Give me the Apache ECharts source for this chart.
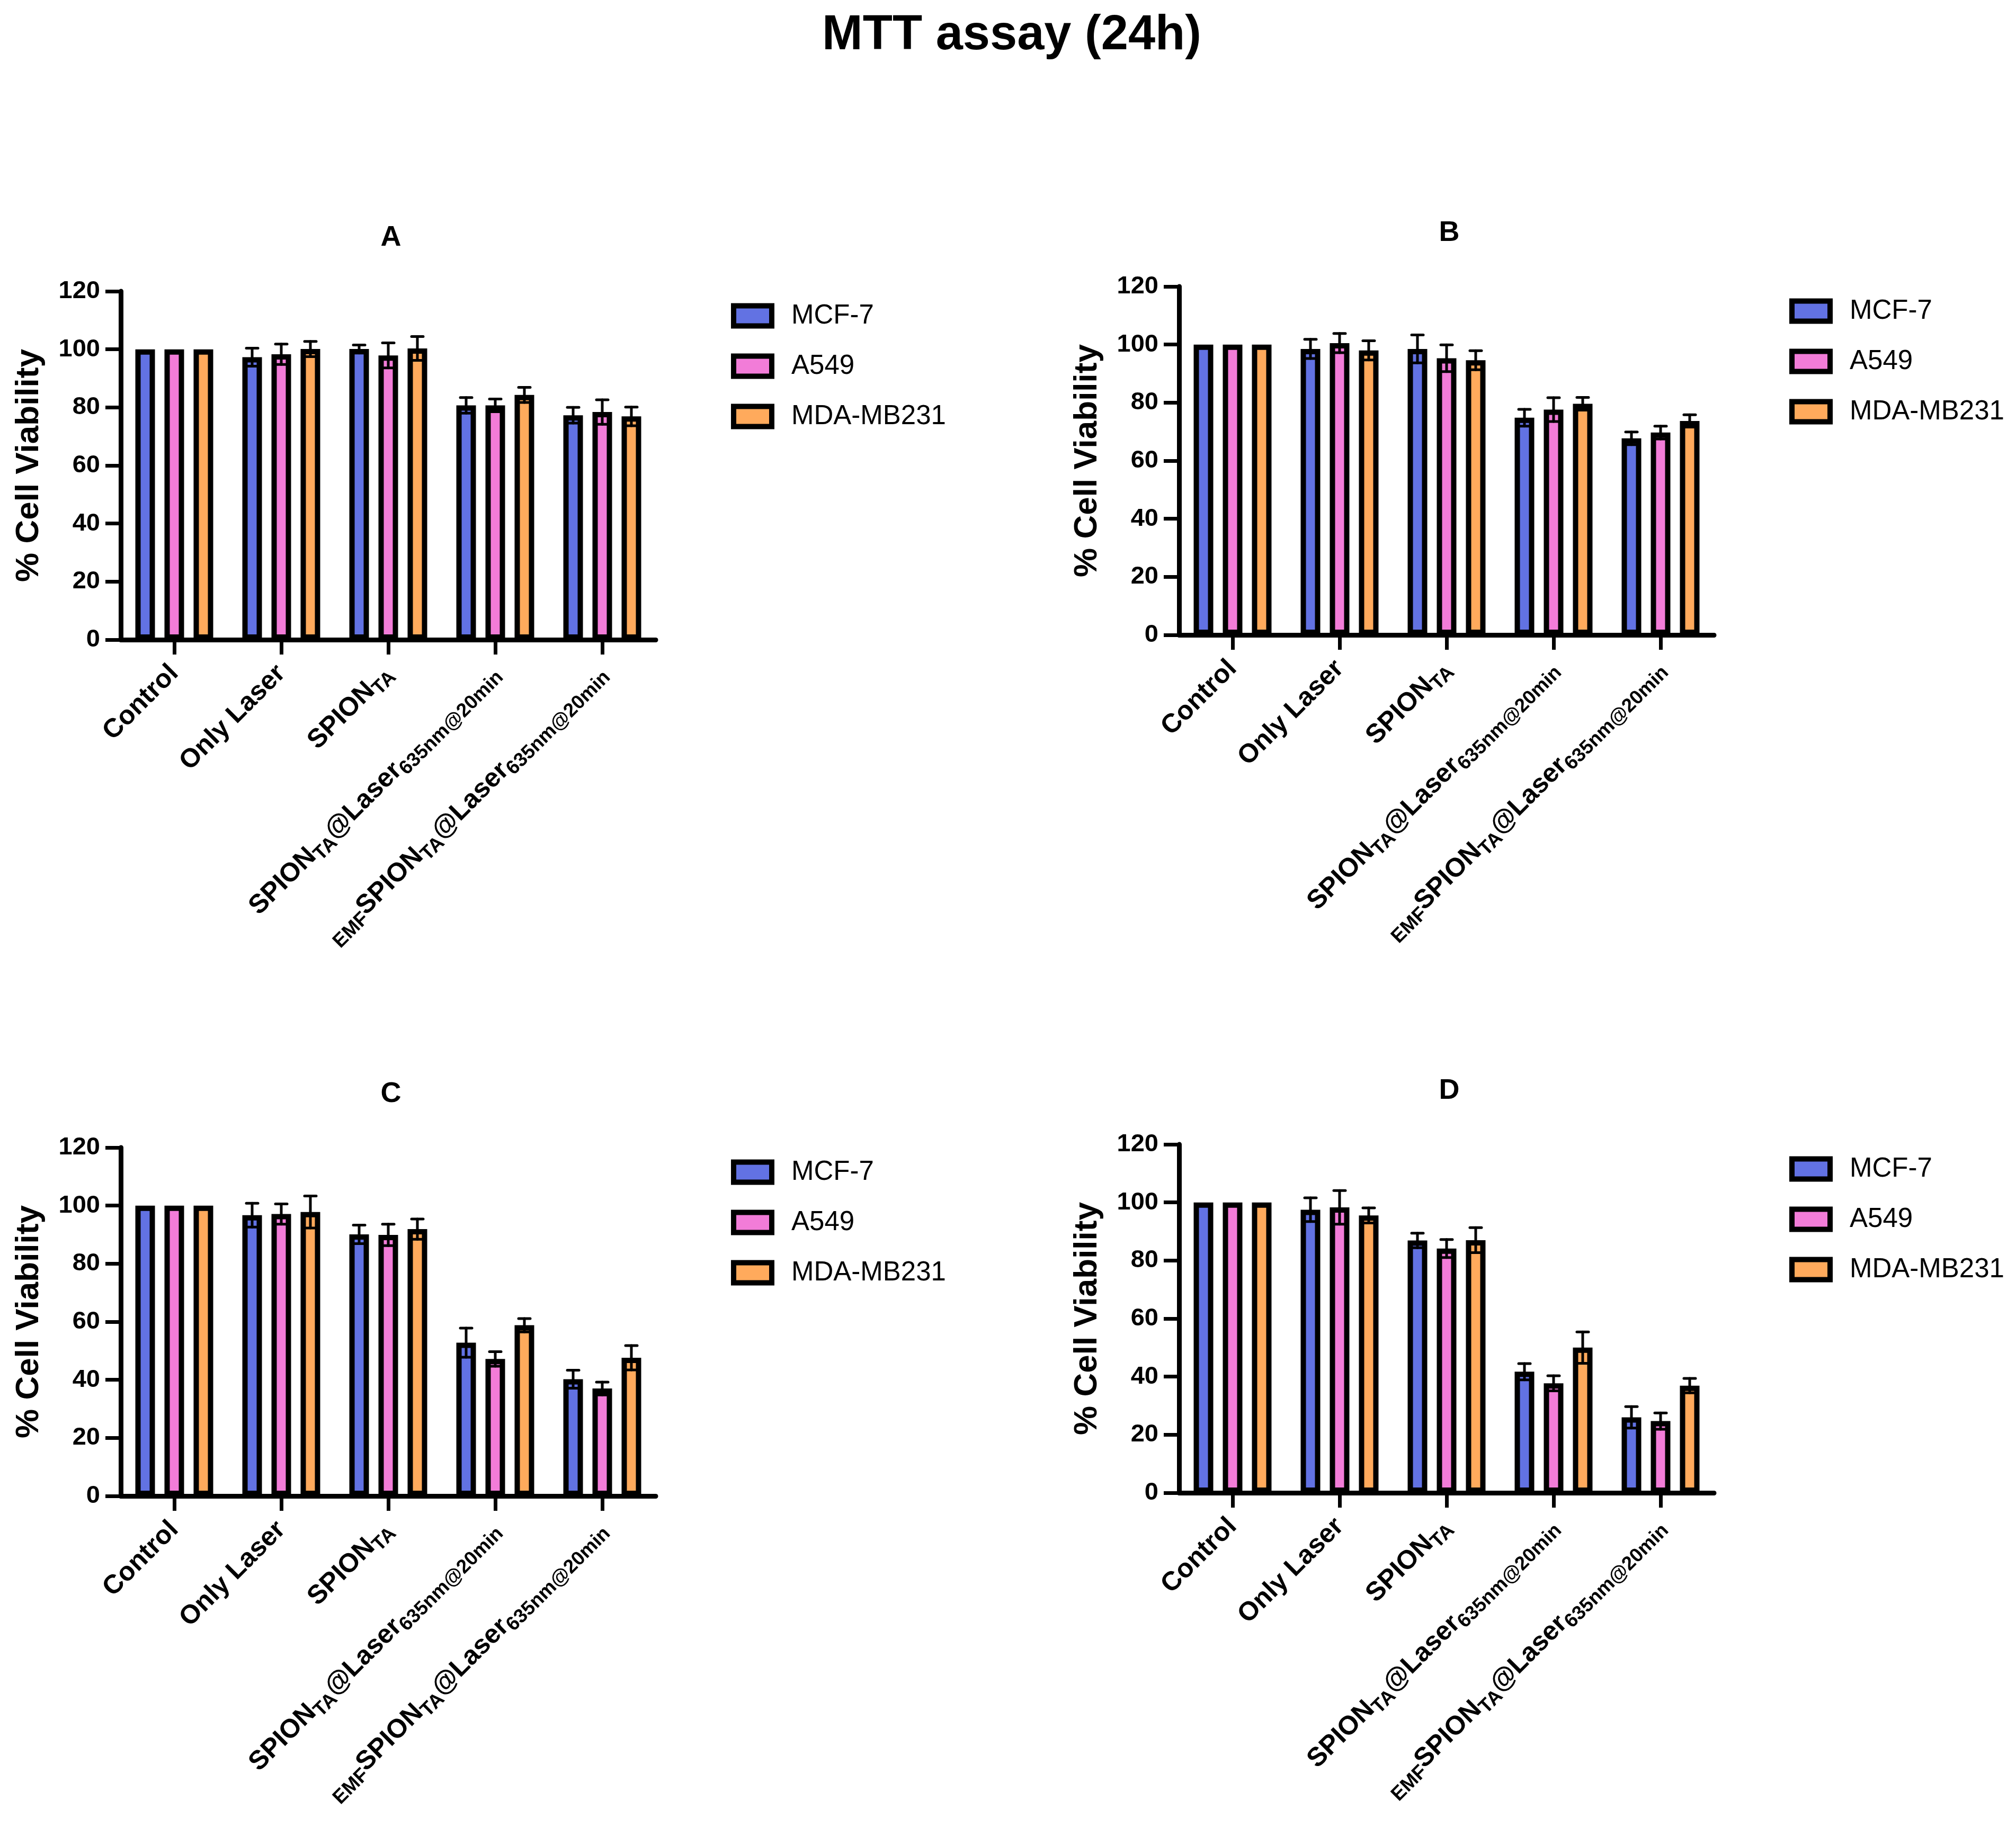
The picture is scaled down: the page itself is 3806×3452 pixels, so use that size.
<!DOCTYPE html>
<html>
<head>
<meta charset="utf-8">
<script src="https://cdn.jsdelivr.net/npm/echarts@6/dist/echarts.min.js"></script>
<style>
html,body{margin:0;padding:0;background:#fff;}
#chart{width:3806px;height:3452px;}
</style>
</head>
<body>
<div id="chart"></div>
<script>
// ---------------- DATA ----------------
const categories = ['Control', 'Only Laser', 'SPION_{TA}', 'SPION_{TA}@Laser_{635nm@20min}', '_{EMF}SPION_{TA}@Laser_{635nm@20min}'];
const seriesNames = ['MCF-7', 'A549', 'MDA-MB231'];
const panelLabels = ['A', 'B', 'C', 'D'];
const mainTitle = 'MTT assay (24h)';
const yAxisName = '% Cell Viability';
const yMin = 0, yMax = 120, yInterval = 20;

// Panel A
const A_mcf7 = [100, 97.3, 100.1, 80.7, 77.3];
const A_mcf7_sd = [0, 3.1, 1.4, 2.7, 2.7];
const A_a549 = [100, 98.3, 97.9, 80.7, 78.4];
const A_a549_sd = [0, 3.5, 4.3, 2.2, 4.2];
const A_mda = [100, 100.1, 100.3, 84.3, 76.9];
const A_mda_sd = [0, 2.6, 4.1, 2.6, 3.2];
// Panel B
const B_mcf7 = [100, 98.5, 98.5, 74.8, 67.7];
const B_mcf7_sd = [0, 3.3, 4.8, 2.9, 2.2];
const B_a549 = [100, 100.5, 95.3, 77.6, 69.7];
const B_a549_sd = [0, 3.3, 4.6, 4.1, 2.2];
const B_mda = [100, 98.0, 94.6, 79.6, 73.7];
const B_mda_sd = [0, 3.3, 3.3, 2.2, 2.1];
// Panel C
const C_mcf7 = [100, 96.7, 90.1, 52.8, 40.2];
const C_mcf7_sd = [0, 4.1, 3.2, 5.0, 3.1];
const C_a549 = [100, 97.1, 89.9, 47.2, 37.0];
const C_a549_sd = [0, 3.5, 3.7, 2.5, 2.2];
const C_mda = [100, 97.8, 91.9, 58.8, 47.6];
const C_mda_sd = [0, 5.5, 3.5, 2.3, 4.2];
// Panel D
const D_mcf7 = [100, 97.5, 86.9, 41.7, 26.0];
const D_mcf7_sd = [0, 4.1, 2.5, 2.8, 3.7];
const D_a549 = [100, 98.3, 84.1, 37.7, 24.7];
const D_a549_sd = [0, 5.8, 3.1, 2.6, 2.8];
const D_mda = [100, 95.5, 87.0, 50.0, 36.9];
const D_mda_sd = [0, 2.6, 4.3, 5.4, 2.5];

// ---------------- STYLE / LAYOUT ----------------
const F = "'Liberation Sans', Arial, Helvetica, sans-serif";
const colors = ['#6272E3', '#F27CD8', '#FFAA5C'];
const panelValues = [
  [[A_mcf7, A_mcf7_sd], [A_a549, A_a549_sd], [A_mda, A_mda_sd]],
  [[B_mcf7, B_mcf7_sd], [B_a549, B_a549_sd], [B_mda, B_mda_sd]],
  [[C_mcf7, C_mcf7_sd], [C_a549, C_a549_sd], [C_mda, C_mda_sd]],
  [[D_mcf7, D_mcf7_sd], [D_a549, D_a549_sd], [D_mda, D_mda_sd]]
];
const panels = [
  {left: 228, top: 550},
  {left: 2226, top: 541},
  {left: 228, top: 2167},
  {left: 2226, top: 2161}
];
const GW = 1010, GH = 658;
const BAR_W = 37, BAR_GAP = 0.486;
const BAR_STEP = BAR_W * (1 + BAR_GAP);

function toRich(s) {
  let out = '', last = 0, m;
  const re = /_\{([^}]*)\}/g;
  while ((m = re.exec(s))) {
    if (m.index > last) out += '{b|' + s.slice(last, m.index) + '}';
    out += '{s|' + m[1] + '}';
    last = re.lastIndex;
  }
  if (last < s.length) out += '{b|' + s.slice(last) + '}';
  return out;
}

const chart = echarts.init(document.getElementById('chart'), null, {renderer: 'canvas'});

const grids = [], xAxes = [], yAxes = [], series = [], legends = [];
const titles = [{
  text: mainTitle, left: 1905, top: 63, textAlign: 'center', textVerticalAlign: 'middle',
  textStyle: {fontSize: 92, fontWeight: 'bold', fontFamily: F, color: '#000'}
}];

panels.forEach((p, pi) => {
  grids.push({left: p.left, top: p.top, width: GW, height: GH, containLabel: false});
  titles.push({
    text: panelLabels[pi], left: p.left + GW / 2, top: p.top - 106,
    textAlign: 'center', textVerticalAlign: 'middle',
    textStyle: {fontSize: 54, fontWeight: 'bold', fontFamily: F, color: '#000'}
  });
  xAxes.push({
    gridIndex: pi, type: 'category', data: categories, boundaryGap: true,
    axisLine: {show: true, lineStyle: {color: '#000', width: 9}},
    axisTick: {show: true, alignWithLabel: true, length: 28, lineStyle: {color: '#000', width: 7}},
    axisLabel: {
      interval: 0, rotate: 45, margin: 56, color: '#000',
      fontFamily: F, fontWeight: 'bold', fontSize: 50,
      formatter: v => toRich(v),
      rich: {
        b: {fontFamily: F, fontWeight: 'bold', fontSize: 50, color: '#000', lineHeight: 64},
        s: {fontFamily: F, fontWeight: 'bold', fontSize: 37, color: '#000', lineHeight: 37, verticalAlign: 'bottom'}
      }
    },
    splitLine: {show: false}
  });
  yAxes.push({
    gridIndex: pi, type: 'value', min: yMin, max: yMax, interval: yInterval,
    name: yAxisName, nameLocation: 'middle', nameRotate: 90, nameGap: 142,
    nameTextStyle: {fontSize: 62, fontWeight: 'bold', fontFamily: F, color: '#000'},
    axisLine: {show: true, lineStyle: {color: '#000', width: 9}},
    axisTick: {show: true, length: 29, lineStyle: {color: '#000', width: 7}},
    axisLabel: {fontSize: 47, fontWeight: 'bold', fontFamily: F, color: '#000', margin: 39},
    splitLine: {show: false}
  });
  const errData = [];
  panelValues[pi].forEach((pair, si) => {
    series.push({
      type: 'bar', name: seriesNames[si], xAxisIndex: pi, yAxisIndex: pi,
      data: pair[0], barWidth: BAR_W, barGap: (BAR_GAP * 100) + '%',
      itemStyle: {color: colors[si], borderColor: '#000', borderWidth: 10},
      emphasis: {disabled: true}, z: 2
    });
    pair[0].forEach((v, ci) => { errData.push([ci, v, pair[1][ci], si]); });
  });
  series.push({
    type: 'custom', xAxisIndex: pi, yAxisIndex: pi, z: 5, silent: true,
    encode: {x: 0, y: 1},
    data: errData,
    renderItem: function (params, api) {
      const ci = api.value(0), v = api.value(1), e = api.value(2), si = api.value(3);
      if (!e) return null;
      const off = (si - 1) * BAR_STEP;
      const hi = api.coord([ci, v + e]);
      const lo = api.coord([ci, v - e]);
      const x = hi[0] + off;
      const cap = 11;
      const st = {stroke: '#000', lineWidth: 5, lineCap: 'round'};
      return {
        type: 'group',
        children: [
          {type: 'line', shape: {x1: x, y1: hi[1], x2: x, y2: lo[1]}, style: st},
          {type: 'line', shape: {x1: x - cap, y1: hi[1], x2: x + cap, y2: hi[1]}, style: st},
          {type: 'line', shape: {x1: x - cap, y1: lo[1], x2: x + cap, y2: lo[1]}, style: st}
        ]
      };
    }
  });
  legends.push({
    data: seriesNames, orient: 'vertical', left: p.left + 1147, top: p.top + 16,
    icon: 'rect', itemWidth: 72, itemHeight: 38, itemGap: 44, padding: 5,
    selectedMode: false,
    itemStyle: {borderColor: '#000', borderWidth: 10},
    textStyle: {fontSize: 51, fontFamily: F, color: '#000', padding: [0, 0, 0, 32], lineHeight: 38}
  });
});

chart.setOption({
  backgroundColor: '#fff',
  animation: false,
  title: titles,
  grid: grids,
  xAxis: xAxes,
  yAxis: yAxes,
  legend: legends,
  series: series
});
</script>
</body>
</html>
